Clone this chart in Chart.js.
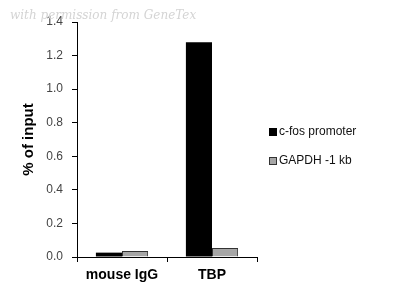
<!DOCTYPE html>
<html>
<head>
<meta charset="utf-8">
<script src="https://cdn.jsdelivr.net/npm/chart.js@4"></script>
<style>
  html, body { margin: 0; padding: 0; background: #fff; }
  #wrap { width: 401px; height: 298px; position: relative; }
</style>
</head>
<body>
<div id="wrap"><canvas id="chipChart" width="401" height="298"></canvas></div>
<script>
// values
var categories = ['mouse IgG', 'TBP'];
var cfosValues = [0.026, 1.28];
var gapdhValues = [0.036, 0.053];
var seriesNames = ['c-fos promoter', 'GAPDH -1 kb'];
var yTicks = [0, 0.2, 0.4, 0.6, 0.8, 1.0, 1.2, 1.4];

var overlay = {
    id: 'overlay',
    afterDraw: function (chart) {
        var ctx = chart.ctx;
        ctx.save();
        // watermark
        ctx.font = 'italic 12px "DejaVu Serif"';
        ctx.fillStyle = '#d4d4d4';
        ctx.textBaseline = 'middle';
        ctx.fillText('with permission from GeneTex', 10, 16);

        // legend on the right
        var x = 269, ys = [132, 161];
        ctx.font = '12px "Liberation Sans", Arial';
        chart.data.datasets.forEach(function (ds, i) {
            ctx.fillStyle = ds.backgroundColor;
            ctx.fillRect(x, ys[i] - 4, 8, 8);
            ctx.strokeStyle = ds.borderColor;
            ctx.lineWidth = 1;
            ctx.strokeRect(x + 0.5, ys[i] - 3.5, 7, 7);
            ctx.fillStyle = '#111';
            ctx.fillText(ds.label, x + 10, ys[i]);
        });
        ctx.restore();
    }
};

new Chart(document.getElementById('chipChart'), {
    type: 'bar',
    data: {
        labels: categories,
        datasets: [{
            label: seriesNames[0],
            data: cfosValues,
            backgroundColor: '#000000',
            borderColor: '#000000',
            borderWidth: 0
        }, {
            label: seriesNames[1],
            data: gapdhValues,
            backgroundColor: '#a6a6a6',
            borderColor: '#333333',
            borderWidth: 1
        }]
    },
    options: {
        responsive: false,
        animation: false,
        devicePixelRatio: 1,
        layout: { padding: { left: 20, right: 144, top: 22, bottom: 0 } },
        datasets: { bar: { categoryPercentage: 0.58, barPercentage: 1.0 } },
        plugins: {
            legend: { display: false },
            tooltip: { enabled: false }
        },
        scales: {
            x: {
                grid: { drawOnChartArea: false, offset: true, color: '#000', tickLength: 5 },
                border: { color: '#000', width: 1 },
                ticks: {
                    color: '#000',
                    font: { family: '"Liberation Sans", Arial', size: 14, weight: 'bold' },
                    padding: 5
                },
                afterFit: function (scale) { scale.height = 41; }
            },
            y: {
                min: 0,
                max: 1.4,
                afterBuildTicks: function (scale) {
                    scale.ticks = yTicks.map(function (v) { return { value: v }; });
                },
                grid: { drawOnChartArea: false, color: '#000', tickLength: 5 },
                border: { color: '#000', width: 1 },
                ticks: {
                    color: '#444',
                    font: { family: '"Liberation Sans", Arial', size: 12 },
                    padding: 9,
                    callback: function (v) { return Number(v).toFixed(1); }
                },
                title: {
                    display: true,
                    text: '% of input',
                    color: '#000',
                    font: { family: '"Liberation Sans", Arial', size: 15, weight: 'bold' },
                    padding: { top: 0, bottom: 0 }
                },
                afterFit: function (scale) { scale.width = 57; }
            }
        }
    },
    plugins: [overlay]
});
</script>
</body>
</html>
